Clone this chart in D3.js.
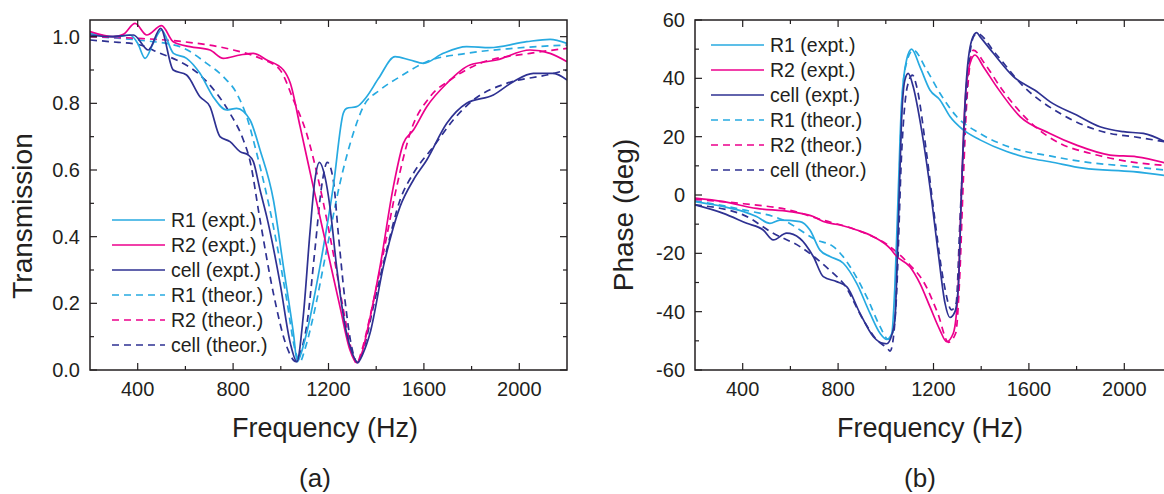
<!DOCTYPE html>
<html>
<head>
<meta charset="utf-8">
<script src="https://cdn.jsdelivr.net/npm/d3@7"></script>
<style>
  body { margin: 0; background: #fff; }
  svg { display: block; }
  text { font-family: "Liberation Sans", Arial, Helvetica, sans-serif; fill: #231f20; }
</style>
</head>
<body>
<div id="main"></div>
<script>
'use strict';

// ---- panel (a): transmission ----
var tR1ExptF = [200, 300, 368, 400, 431, 465, 500, 550, 605, 661, 716, 773, 815, 871, 913, 969, 1011, 1053, 1069, 1085, 1108, 1164, 1220, 1262, 1276, 1318, 1360, 1410, 1479, 1542, 1598, 1681, 1779, 1877, 2031, 2129, 2200];
var tR1Expt  = [1.01, 1.0, 1.005, 0.98, 0.935, 0.98, 1.02, 0.95, 0.935, 0.89, 0.82, 0.78, 0.785, 0.75, 0.66, 0.51, 0.31, 0.11, 0.025, 0.05, 0.11, 0.31, 0.55, 0.77, 0.785, 0.79, 0.82, 0.875, 0.94, 0.93, 0.92, 0.95, 0.97, 0.967, 0.985, 0.992, 0.98];

var tR2ExptF = [200, 298, 340, 389, 438, 500, 549, 619, 703, 759, 829, 885, 941, 1011, 1040, 1081, 1136, 1192, 1248, 1290, 1318, 1340, 1360, 1416, 1472, 1514, 1556, 1612, 1696, 1793, 1905, 2045, 2129, 2200];
var tR2Expt  = [1.015, 1.0, 1.007, 1.04, 1.005, 1.033, 0.985, 0.97, 0.96, 0.935, 0.945, 0.95, 0.93, 0.9, 0.86, 0.73, 0.55, 0.37, 0.19, 0.06, 0.022, 0.05, 0.11, 0.31, 0.55, 0.68, 0.72, 0.79, 0.86, 0.915, 0.93, 0.96, 0.95, 0.925];

var tCellExptF = [200, 284, 382, 445, 496, 549, 605, 661, 703, 745, 787, 829, 864, 885, 913, 941, 997, 1040, 1067, 1094, 1122, 1143, 1162, 1185, 1206, 1234, 1276, 1300, 1322, 1345, 1374, 1430, 1500, 1556, 1612, 1696, 1779, 1891, 1975, 2059, 2143, 2200];
var tCellExpt  = [1.005, 1.0, 1.005, 0.96, 1.025, 0.9, 0.885, 0.82, 0.79, 0.70, 0.685, 0.655, 0.645, 0.625, 0.54, 0.46, 0.26, 0.08, 0.025, 0.16, 0.41, 0.57, 0.623, 0.58, 0.49, 0.31, 0.11, 0.05, 0.022, 0.05, 0.11, 0.31, 0.49, 0.57, 0.63, 0.74, 0.80, 0.825, 0.865, 0.89, 0.89, 0.87];

var tR1TheorF = [200, 400, 577, 689, 759, 815, 857, 899, 969, 1025, 1060, 1081, 1100, 1136, 1192, 1248, 1304, 1346, 1416, 1500, 1612, 1779, 1975, 2200];
var tR1Theor  = [1.0, 0.99, 0.97, 0.92, 0.88, 0.83, 0.76, 0.65, 0.43, 0.21, 0.06, 0.025, 0.06, 0.16, 0.36, 0.56, 0.71, 0.79, 0.84, 0.88, 0.925, 0.95, 0.965, 0.975];

var tR2TheorF = [200, 400, 591, 801, 913, 997, 1053, 1108, 1164, 1220, 1276, 1300, 1318, 1340, 1374, 1430, 1486, 1542, 1626, 1710, 1835, 2045, 2200];
var tR2Theor  = [1.0, 0.995, 0.985, 0.96, 0.935, 0.9, 0.81, 0.71, 0.55, 0.35, 0.13, 0.05, 0.02, 0.06, 0.16, 0.35, 0.55, 0.71, 0.82, 0.87, 0.92, 0.95, 0.965];

var tCellTheorF = [200, 284, 410, 494, 563, 661, 731, 787, 843, 870, 913, 969, 1025, 1064, 1090, 1108, 1143, 1171, 1195, 1220, 1241, 1269, 1300, 1322, 1350, 1388, 1444, 1500, 1556, 1640, 1723, 1807, 1947, 2115, 2200];
var tCellTheor  = [0.99, 0.985, 0.975, 0.95, 0.93, 0.885, 0.83, 0.77, 0.69, 0.63, 0.45, 0.23, 0.07, 0.025, 0.07, 0.13, 0.36, 0.55, 0.623, 0.57, 0.41, 0.21, 0.06, 0.022, 0.07, 0.19, 0.36, 0.51, 0.59, 0.67, 0.75, 0.81, 0.86, 0.885, 0.9];

// ---- panel (b): phase ----
var pR1ExptF = [200, 319, 404, 458, 514, 556, 640, 682, 724, 766, 822, 878, 934, 976, 1004, 1025, 1038, 1053, 1066, 1087, 1108, 1143, 1185, 1227, 1269, 1325, 1395, 1507, 1605, 1688, 1828, 2038, 2200];
var pR1Expt  = [-2.3, -4, -5.7, -7.4, -9.7, -8.6, -9.1, -12, -18.9, -21.1, -23.4, -30.3, -40.6, -47.4, -49.5, -47.5, -31.4, 2.9, 31.4, 46.3, 50, 44, 36, 32.6, 26.9, 22.3, 18.9, 14.9, 12.6, 11.4, 9.2, 8, 6.4];

var pR2ExptF = [200, 319, 458, 598, 696, 738, 808, 878, 948, 1018, 1046, 1101, 1143, 1185, 1227, 1255, 1283, 1304, 1318, 1332, 1353, 1374, 1409, 1465, 1563, 1688, 1800, 1940, 2052, 2200];
var pR2Expt  = [-1.1, -2.3, -4.6, -5.7, -7.4, -9.1, -10.3, -12, -14.3, -18.3, -21.1, -24.6, -30.3, -38.3, -46.3, -50.3, -47.4, -31.4, 2.9, 31.4, 45.1, 48, 44, 37.1, 26.9, 21.1, 17.1, 13.7, 13.1, 10.4];

var pCellExptF = [200, 319, 417, 486, 528, 584, 640, 696, 738, 794, 836, 892, 948, 990, 1004, 1025, 1038, 1053, 1066, 1080, 1094, 1115, 1143, 1185, 1220, 1248, 1269, 1290, 1304, 1318, 1336, 1360, 1381, 1395, 1451, 1535, 1633, 1688, 1800, 1898, 1996, 2080, 2200];
var pCellExpt  = [-3.4, -6.3, -9.7, -12, -15.4, -13.1, -14.9, -21.1, -28, -29.7, -31.4, -40.6, -48.6, -50.9, -51, -48, -42.9, -8.6, 25.7, 39.4, 41.7, 37.1, 25.7, 2.9, -20, -37, -42, -40, -31.4, 2.9, 37, 53, 55.7, 54.3, 48.6, 40.6, 35.5, 32, 27.4, 23.4, 21.7, 21.1, 17];

var pR1TheorF = [200, 404, 570, 710, 780, 920, 976, 1010, 1030, 1040, 1050, 1062, 1080, 1115, 1171, 1227, 1297, 1395, 1535, 1688, 1828, 2038, 2200];
var pR1Theor  = [-2, -5.1, -8.6, -15.4, -17.7, -34.9, -45.1, -49.5, -47, -40, -15, 20, 42.9, 49.7, 42.9, 34.9, 26.9, 21.1, 16, 13.4, 11.4, 9.7, 8.3];

var pR2TheorF = [200, 404, 598, 736, 878, 1007, 1101, 1158, 1218, 1263, 1293, 1310, 1325, 1340, 1367, 1414, 1489, 1610, 1730, 1856, 2024, 2200];
var pR2Theor  = [-1.5, -3, -5.2, -8.6, -12, -17.1, -24, -29.7, -40.6, -50.5, -47.4, -28, 5, 32.6, 49.7, 45.1, 36, 24.6, 17.7, 14.3, 11.4, 10];

var pCellTheorF = [200, 404, 528, 640, 780, 822, 906, 962, 1007, 1018, 1030, 1044, 1067, 1090, 1112, 1130, 1171, 1206, 1241, 1276, 1295, 1311, 1332, 1353, 1368, 1383, 1459, 1579, 1730, 1828, 1940, 2038, 2200];
var pCellTheor  = [-3.4, -6.9, -13.1, -17.7, -26.9, -30.3, -42.9, -49.7, -52.6, -53.5, -50, -36, 15.4, 37.1, 41.1, 37, 14.3, -8.6, -29, -39.4, -37, -8.6, 25.7, 48.6, 54.3, 55.4, 48.6, 37.1, 28, 24, 21.1, 20, 17.8];

var legendNames = ['R1 (expt.)', 'R2 (expt.)', 'cell (expt.)', 'R1 (theor.)', 'R2 (theor.)', 'cell (theor.)'];
var xMajorTicks = [400, 800, 1200, 1600, 2000];
var xMinorTicks = [600, 1000, 1400, 1800];
var tMajorTicks = [0.0, 0.2, 0.4, 0.6, 0.8, 1.0];
var tMinorTicks = [0.1, 0.3, 0.5, 0.7, 0.9];
var pMajorTicks = [-60, -40, -20, 0, 20, 40, 60];
var pMinorTicks = [-50, -30, -10, 10, 30, 50];

var cyan = '#27aae1';
var magenta = '#ec008c';
var navy = '#2e3192';
var ink = '#231f20';

var svg = d3.select('#main').append('svg')
	.attr('width', 1164)
	.attr('height', 494);

function zip(f, v) {
	return f.map(function (d, i) { return [d, v[i]]; });
}

function drawPanel(p) {
	var x = d3.scaleLinear().domain([200, 2200]).range([p.left, p.left + 477]);
	var y = d3.scaleLinear().domain(p.yDomain).range([370, 20]);
	var g = svg.append('g');

	g.append('clipPath').attr('id', p.id + 'clip')
		.append('rect').attr('x', p.left).attr('y', 20).attr('width', 477).attr('height', 350);

	var line = d3.line()
		.x(function (d) { return x(d[0]); })
		.y(function (d) { return y(d[1]); })
		.curve(d3.curveMonotoneX);

	var series = [
		{ f: p.s[3][0], v: p.s[3][1], c: cyan, dash: '7,5' },
		{ f: p.s[4][0], v: p.s[4][1], c: magenta, dash: '7,5' },
		{ f: p.s[5][0], v: p.s[5][1], c: navy, dash: '7,5' },
		{ f: p.s[0][0], v: p.s[0][1], c: cyan, dash: null },
		{ f: p.s[1][0], v: p.s[1][1], c: magenta, dash: null },
		{ f: p.s[2][0], v: p.s[2][1], c: navy, dash: null }
	];

	g.append('g').attr('clip-path', 'url(#' + p.id + 'clip)')
		.selectAll('path').data(series).enter().append('path')
		.attr('d', function (d) { return line(zip(d.f, d.v)); })
		.attr('fill', 'none')
		.attr('stroke', function (d) { return d.c; })
		.attr('stroke-width', 1.7)
		.attr('stroke-dasharray', function (d) { return d.dash; });

	// ticks, pointing inward
	function ticks(vals, len, side) {
		var sel = g.append('g').selectAll('line').data(vals).enter().append('line')
			.attr('stroke', ink).attr('stroke-width', 1.2);
		if (side === 'bottom') sel.attr('x1', x).attr('x2', x).attr('y1', 370).attr('y2', 370 - len);
		if (side === 'top') sel.attr('x1', x).attr('x2', x).attr('y1', 20).attr('y2', 20 + len);
		if (side === 'left') sel.attr('y1', y).attr('y2', y).attr('x1', p.left).attr('x2', p.left + len);
		if (side === 'right') sel.attr('y1', y).attr('y2', y).attr('x1', p.left + 477).attr('x2', p.left + 477 - len);
	}
	['bottom', 'top'].forEach(function (s) { ticks(xMajorTicks, 7, s); ticks(xMinorTicks, 4, s); });
	['left', 'right'].forEach(function (s) { ticks(p.yMajor, 7, s); ticks(p.yMinor, 4, s); });

	g.append('rect')
		.attr('x', p.left).attr('y', 20).attr('width', 477).attr('height', 350)
		.attr('fill', 'none').attr('stroke', ink).attr('stroke-width', 1.5);

	g.append('g').selectAll('text').data(xMajorTicks).enter().append('text')
		.attr('x', x).attr('y', 396)
		.attr('text-anchor', 'middle').attr('font-size', '20px')
		.text(function (d) { return d; });

	g.append('g').selectAll('text').data(p.yMajor).enter().append('text')
		.attr('x', p.left - 10).attr('y', function (d) { return y(d); })
		.attr('dy', '0.35em')
		.attr('text-anchor', 'end').attr('font-size', '20px')
		.text(p.yFormat);

	g.append('text')
		.attr('x', p.left + 235).attr('y', 437)
		.attr('text-anchor', 'middle').attr('font-size', '27px')
		.text('Frequency (Hz)');

	g.append('text')
		.attr('x', p.left + 225).attr('y', 487)
		.attr('text-anchor', 'middle').attr('font-size', '26px')
		.text(p.label);

	g.append('text')
		.attr('transform', 'translate(' + p.titleX + ',' + p.titleY + ') rotate(-90)')
		.attr('text-anchor', 'middle').attr('font-size', '28px')
		.text(p.title);

	// legend
	var lg = g.append('g').selectAll('g').data(legendNames).enter().append('g')
		.attr('transform', function (d, i) { return 'translate(' + p.legX + ',' + (p.legY + i * 25) + ')'; });
	lg.append('line')
		.attr('x1', 0).attr('x2', 53).attr('y1', 0).attr('y2', 0)
		.attr('stroke', function (d, i) { return series[(i + 3) % 6].c; })
		.attr('stroke-width', 1.7)
		.attr('stroke-dasharray', function (d, i) { return i > 2 ? '7,5' : null; });
	lg.append('text')
		.attr('x', 59).attr('y', 7)
		.attr('font-size', '19.5px')
		.text(function (d) { return d; });
}

drawPanel({
	id: 'a', left: 90, yDomain: [0, 1.05],
	yMajor: tMajorTicks, yMinor: tMinorTicks, yFormat: d3.format('.1f'),
	title: 'Transmission', titleX: 32, titleY: 216, label: '(a)',
	legX: 112, legY: 220,
	s: [[tR1ExptF, tR1Expt], [tR2ExptF, tR2Expt], [tCellExptF, tCellExpt],
		[tR1TheorF, tR1Theor], [tR2TheorF, tR2Theor], [tCellTheorF, tCellTheor]]
});

drawPanel({
	id: 'b', left: 695, yDomain: [-60, 60],
	yMajor: pMajorTicks, yMinor: pMinorTicks, yFormat: function (d) { return String(d); },
	title: 'Phase (deg)', titleX: 633, titleY: 215, label: '(b)',
	legX: 711, legY: 45,
	s: [[pR1ExptF, pR1Expt], [pR2ExptF, pR2Expt], [pCellExptF, pCellExpt],
		[pR1TheorF, pR1Theor], [pR2TheorF, pR2Theor], [pCellTheorF, pCellTheor]]
});
</script>
</body>
</html>
